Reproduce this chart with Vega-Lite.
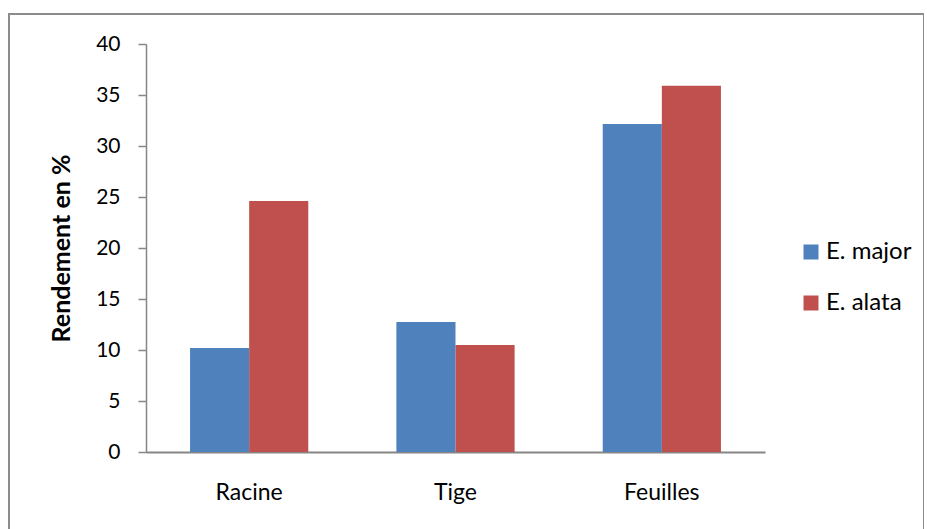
{
  "$schema": "https://vega.github.io/schema/vega-lite/v6.json",
  "width": 915,
  "height": 525,
  "autosize": {"type": "none"},
  "padding": {"left": 9, "top": 14, "right": 0, "bottom": 0},
  "background": "white",
  "config": {
    "view": {"stroke": "#8c8c8c", "strokeWidth": 2},
    "font": "Lato",
    "axis": {"grid": false, "domainColor": "#868686", "tickColor": "#868686", "labelColor": "#000", "titleColor": "#000", "labelFont": "Lato", "titleFont": "Lato"}
  },
  "data": {
    "values": [
      {"organe": "Racine", "espece": "E. major", "rendement": 10.2},
      {"organe": "Racine", "espece": "E. alata", "rendement": 24.6},
      {"organe": "Tige", "espece": "E. major", "rendement": 12.75},
      {"organe": "Tige", "espece": "E. alata", "rendement": 10.5},
      {"organe": "Feuilles", "espece": "E. major", "rendement": 32.15},
      {"organe": "Feuilles", "espece": "E. alata", "rendement": 35.9}
    ]
  },
  "mark": {"type": "bar"},
  "encoding": {
    "x": {
      "field": "organe", "type": "nominal", "sort": ["Racine", "Tige", "Feuilles"],
      "scale": {"range": [137, 756], "paddingInner": 0.427, "paddingOuter": 0.2135},
      "axis": {"title": null, "labelAngle": 0, "labelFontSize": 23, "ticks": false, "labelPadding": 29, "offset": -87, "domainWidth": 2}
    },
    "xOffset": {"field": "espece", "type": "nominal", "sort": ["E. major", "E. alata"]},
    "y": {
      "field": "rendement", "type": "quantitative",
      "scale": {"domain": [0, 40], "range": [438, 30], "nice": false},
      "axis": {"title": "Rendement en %", "titleFontSize": 25, "titleFontWeight": "bold", "titlePadding": 21, "labelFontSize": 21, "values": [0,5,10,15,20,25,30,35,40], "labelOverlap": false, "tickSize": 8, "labelPadding": 18, "offset": -137, "domainWidth": 1.5, "tickWidth": 1.5}
    },
    "color": {
      "field": "espece", "type": "nominal", "sort": ["E. major", "E. alata"],
      "scale": {"domain": ["E. major", "E. alata"], "range": ["#4F81BD", "#C0504D"]},
      "legend": {"title": null, "orient": "none", "legendX": 790, "legendY": 226, "symbolType": "square", "symbolSize": 225, "symbolStrokeWidth": 0, "labelFontSize": 24, "rowPadding": 27, "labelOffset": 3}
    }
  }
}
